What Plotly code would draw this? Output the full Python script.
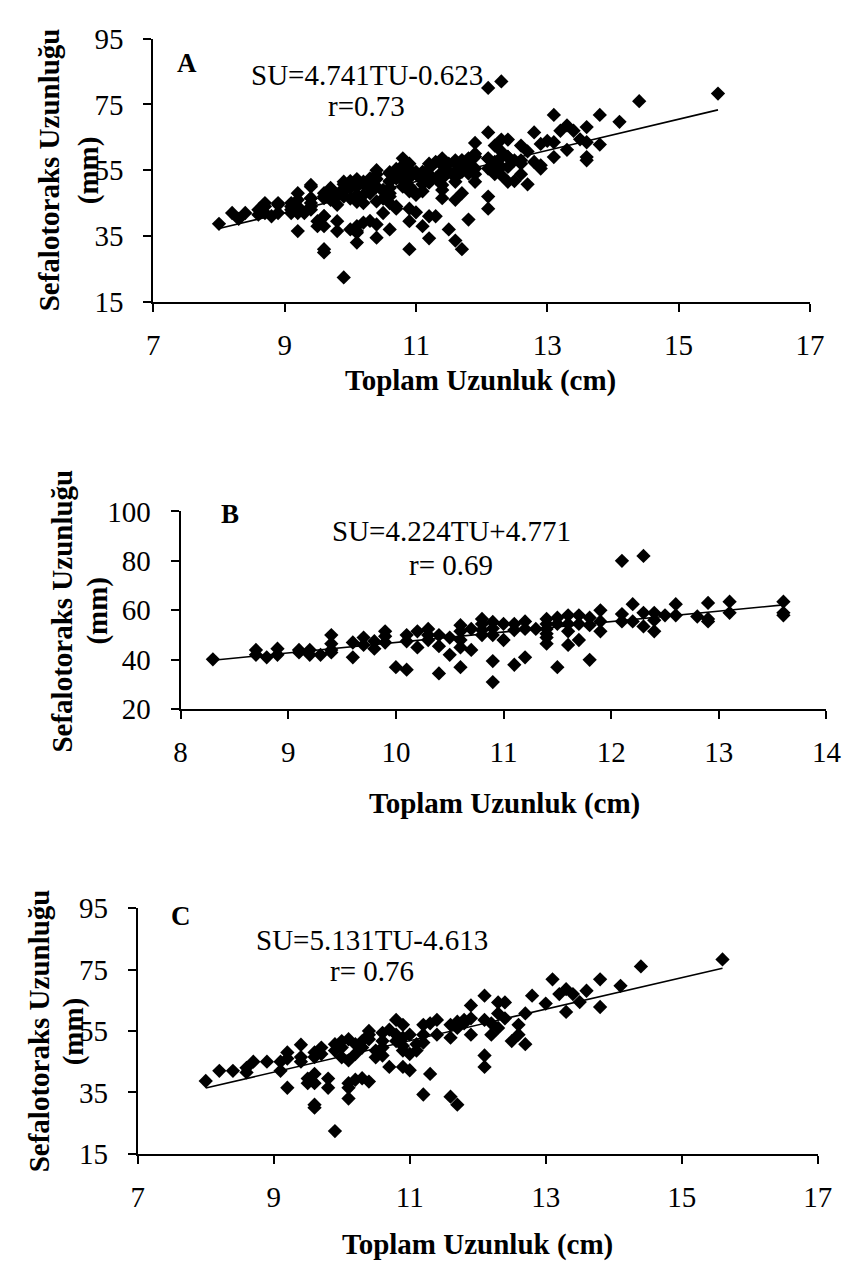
import plotly.graph_objects as go

# panel B data (toplam uzunluk cm, sefalotoraks uzunlugu mm)
b_tu = [8.3, 8.7, 8.7, 8.8, 8.9, 8.9, 9.1, 9.1, 9.2, 9.2, 9.3,
        9.4, 9.4, 9.4, 9.4, 9.6, 9.6, 9.7, 9.7, 9.8, 9.8,
        9.9, 9.9, 9.9, 10.0, 10.1, 10.1, 10.1, 10.2, 10.2,
        10.3, 10.3, 10.3, 10.4, 10.4, 10.4, 10.5, 10.5,
        10.6, 10.6, 10.6, 10.6, 10.6, 10.7, 10.7,
        10.8, 10.8, 10.8, 10.8, 10.9, 10.9, 10.9, 10.9, 10.9,
        11.0, 11.0, 11.1, 11.1, 11.1, 11.2, 11.2, 11.2, 11.3,
        11.4, 11.4, 11.4, 11.4, 11.4, 11.4, 11.5, 11.5, 11.5,
        11.6, 11.6, 11.6, 11.6, 11.7, 11.7, 11.7, 11.8, 11.8, 11.8,
        11.9, 11.9, 11.9, 12.1, 12.1, 12.1, 12.2, 12.2,
        12.3, 12.3, 12.3, 12.4, 12.4, 12.4, 12.5, 12.6, 12.6, 12.8,
        12.9, 12.9, 12.9, 13.1, 13.1, 13.6, 13.6, 13.6]
b_su = [40.2, 44, 42, 41, 44.5, 42, 44, 43, 44, 42, 42,
        50, 46.5, 44, 43, 47, 41, 49, 46, 47.5, 44.5,
        51.5, 49.5, 47, 37, 50, 47.5, 36, 51.5, 45,
        52.5, 50, 48, 50, 45.5, 34.5, 49, 42,
        54, 51.5, 48, 45, 37, 52.5, 44,
        56.5, 54.5, 52, 50, 55.3, 52.7, 50, 39.5, 31,
        54.5, 48, 54.5, 52, 38, 55.5, 52.5, 41, 52.5,
        56.5, 54.5, 52.5, 50.5, 49, 46.5, 57, 54.5, 37,
        58, 54.5, 51.5, 46, 58, 54.5, 48, 57, 54, 40,
        60, 55.5, 51.5, 80, 58.5, 55.5, 62.5, 55.5,
        82, 59, 53.5, 59, 56, 51.5, 58, 62.5, 58, 57.5,
        63, 56.5, 55.5, 63.5, 59, 63.5, 59, 58]

# panel C data
c_tu = [8.0, 8.2, 8.4, 8.6, 8.6, 8.7, 8.9, 9.1, 9.1, 9.2, 9.2, 9.2,
        9.4, 9.4, 9.4, 9.5, 9.5, 9.6, 9.6, 9.6, 9.6, 9.6, 9.6,
        9.7, 9.7, 9.8, 9.8, 9.9, 9.9, 9.9, 10.0, 10.0, 10.0,
        10.1, 10.1, 10.1, 10.1, 10.1, 10.2, 10.2, 10.2,
        10.3, 10.3, 10.3, 10.4, 10.4, 10.4, 10.4, 10.5, 10.5,
        10.6, 10.6, 10.6, 10.6, 10.7, 10.7, 10.8, 10.8, 10.8,
        10.9, 10.9, 10.9, 10.9, 10.9, 11.0, 11.0, 11.0, 11.1, 11.1,
        11.2, 11.2, 11.2, 11.2, 11.3, 11.3, 11.4, 11.4,
        11.6, 11.6, 11.6, 11.7, 11.7, 11.7, 11.8, 11.8,
        11.9, 11.9, 11.9, 12.1, 12.1, 12.1, 12.1, 12.2, 12.2,
        12.3, 12.3, 12.3, 12.4, 12.4, 12.5, 12.6, 12.6, 12.7, 12.7,
        12.8, 13.0, 13.1, 13.2, 13.3, 13.3, 13.4, 13.5, 13.6,
        13.8, 13.8, 14.1, 14.4, 15.6]
c_su = [38.7, 42, 42, 43, 41.5, 45, 45, 42, 45, 48, 46, 36.5,
        50.5, 46.5, 45, 39.5, 38, 48, 46.5, 41, 38, 31, 30,
        49.6, 47.5, 39.5, 36.5, 50.7, 48.6, 22.4, 51.7, 49.6, 46.4,
        52.3, 45.4, 38, 36.5, 33, 50.7, 47.5, 39.1,
        51.7, 49.6, 39.6, 55, 53.8, 52.3, 38.5, 48.6, 46.4,
        54.4, 51.7, 49.6, 47, 55.4, 43.3, 58.6, 53.8, 51.7,
        57, 52.8, 50.1, 48.6, 43.3, 53.8, 47.5, 42.2, 50.7, 48.6,
        57, 53.8, 51.2, 34.3, 57.5, 41, 58.6, 53.8,
        57, 52.8, 33.6, 58, 56, 31, 58.6, 57.5,
        63.3, 59.1, 53.8, 66.5, 58.6, 47, 43.3, 57.5, 53.8,
        64.3, 60.7, 56, 64.3, 59.1, 51.7, 57, 53.8, 60.7, 50.7,
        66.5, 63.9, 71.8, 67, 68.6, 61.2, 67, 64.4, 68.1,
        71.8, 62.8, 69.7, 76, 78.3]

# panel A is both groups together
a_tu = b_tu + c_tu
a_su = b_su + c_su

panel_labels = ["A", "B", "C"]
slopes = [4.741, 4.224, 5.131]
intercepts = [-0.623, 4.771, -4.613]
equations = ["SU=4.741TU-0.623", "SU=4.224TU+4.771", "SU=5.131TU-4.613"]
r_texts = ["r=0.73", "r= 0.69", "r= 0.76"]
x_ticks = [[7, 9, 11, 13, 15, 17], [8, 9, 10, 11, 12, 13, 14], [7, 9, 11, 13, 15, 17]]
y_ticks = [[15, 35, 55, 75, 95], [20, 40, 60, 80, 100], [15, 35, 55, 75, 95]]

W, H = 851, 1269
FONT = "Liberation Serif"


def px(x):
    return x / W


def py(y):
    return 1 - y / H


# pixel boxes of the three plot areas: left, right, top, bottom
boxes = [(142, 816, 15, 285), (170, 833, 500, 703), (126, 824, 907, 1159)]
# label, equation, r, x-title, y-title positions (pixels)
label_pos = [(177, 40), (221, 503), (170, 915)]
eq_pos = [(361, 52), (448, 520), (366, 940)]
r_pos = [(361, 84), (448, 555), (366, 972)]
xtitle_pos = [(478, 366), (503, 800), (475, 1252)]
ytitle_pos = [(35, 75, 150), (48, 85, 602), (25, 61, 1033)]

data = [(a_tu, a_su), (b_tu, b_su), (c_tu, c_su)]

fig = go.Figure()
annotations = []

for i in range(3):
    xs, ys = data[i]
    xa = "x" if i == 0 else f"x{i + 1}"
    ya = "y" if i == 0 else f"y{i + 1}"
    fig.add_trace(go.Scatter(x=xs, y=ys, mode="markers", xaxis=xa, yaxis=ya,
                             marker=dict(symbol="diamond", size=11, color="black",
                                         line=dict(width=0))))
    x0, x1 = min(xs), max(xs)
    fig.add_trace(go.Scatter(x=[x0, x1],
                             y=[slopes[i] * x0 + intercepts[i], slopes[i] * x1 + intercepts[i]],
                             mode="lines", xaxis=xa, yaxis=ya,
                             line=dict(color="black", width=1.6)))

    l, r, t, b = boxes[i]
    axis_common = dict(showline=True, linecolor="black", linewidth=2, ticks="outside",
                       ticklen=8, tickwidth=2, tickcolor="black", showgrid=False,
                       zeroline=False, tickfont=dict(family=FONT, size=29, color="black"))
    xt, yt = x_ticks[i], y_ticks[i]
    fig.layout[f"xaxis{i + 1 if i else ''}"] = dict(
        domain=[px(l), px(r)], anchor=ya, range=[xt[0], xt[-1]], tickvals=xt,
        ticklabelstandoff=8, **axis_common)
    fig.layout[f"yaxis{i + 1 if i else ''}"] = dict(
        domain=[py(b), py(t)], anchor=xa, range=[yt[0], yt[-1]], tickvals=yt,
        ticklabelstandoff=14, **axis_common)

    annotations.append(dict(text=f"<b>{panel_labels[i]}</b>", x=px(label_pos[i][0]), y=py(label_pos[i][1]),
                            font=dict(family=FONT, size=27, color="black")))
    annotations.append(dict(text=equations[i], x=px(eq_pos[i][0]), y=py(eq_pos[i][1]),
                            font=dict(family=FONT, size=29, color="black")))
    annotations.append(dict(text=r_texts[i], x=px(r_pos[i][0]), y=py(r_pos[i][1]),
                            font=dict(family=FONT, size=29, color="black")))
    annotations.append(dict(text="<b>Toplam Uzunluk (cm)</b>", x=px(xtitle_pos[i][0]), y=py(xtitle_pos[i][1]),
                            font=dict(family=FONT, size=29, color="black")))
    y1, y2, yc = ytitle_pos[i]
    annotations.append(dict(text="<b>Sefalotoraks Uzunluğu</b>", x=px(y1), y=py(yc), textangle=-90,
                            font=dict(family=FONT, size=29, color="black")))
    annotations.append(dict(text="<b>(mm)</b>", x=px(y2), y=py(yc), textangle=-90,
                            font=dict(family=FONT, size=29, color="black")))

for a in annotations:
    a.update(xref="paper", yref="paper", showarrow=False, xanchor="center", yanchor="middle")

fig.update_layout(width=W, height=H, margin=dict(l=0, r=0, t=0, b=0),
                  paper_bgcolor="white", plot_bgcolor="white", showlegend=False,
                  annotations=annotations)

fig.write_html("out.html")
